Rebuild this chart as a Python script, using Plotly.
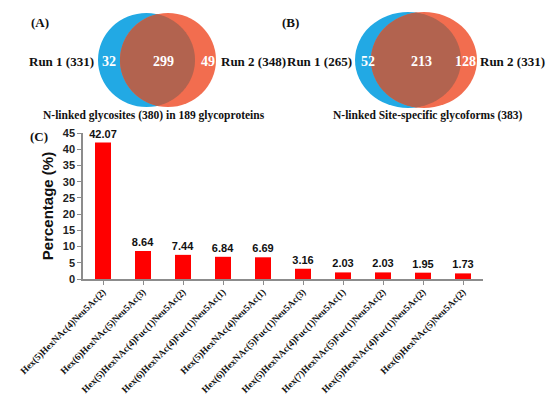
import math
import plotly.graph_objects as go

W, H = 554, 396

glycoforms = [
    "Hex(5)HexNAc(4)Neu5Ac(2)",
    "Hex(6)HexNAc(5)Neu5Ac(3)",
    "Hex(5)HexNAc(4)Fuc(1)Neu5Ac(2)",
    "Hex(6)HexNAc(4)Fuc(1)Neu5Ac(1)",
    "Hex(5)HexNAc(4)Neu5Ac(1)",
    "Hex(6)HexNAc(5)Fuc(1)Neu5Ac(3)",
    "Hex(5)HexNAc(4)Fuc(1)Neu5Ac(1)",
    "Hex(7)HexNAc(5)Fuc(1)Neu5Ac(2)",
    "Hex(5)HexNAc(4)Fuc(1)Neu5Ac(2)",
    "Hex(6)HexNAc(5)Neu5Ac(2)",
]
percentages = [42.07, 8.64, 7.44, 6.84, 6.69, 3.16, 2.03, 2.03, 1.95, 1.73]
y_ticks = [0, 5, 10, 15, 20, 25, 30, 35, 40, 45]

venn_a_counts = [32, 299, 49]
venn_a_runs = ["Run 1 (331)", "Run 2 (348)"]
venn_a_caption = "N-linked glycosites (380) in 189 glycoproteins"
venn_b_counts = [52, 213, 128]
venn_b_runs = ["Run 1 (265)", "Run 2 (331)"]
venn_b_caption = "N-linked Site-specific glycoforms (383)"

BLUE = "#22A9E4"
ORANGE = "#F26D4F"
OVERLAP = "#B2634F"
SERIF = "Liberation Serif"
SANS = "Liberation Sans"


def px(x):
    return x / W


def py(y):
    return 1 - y / H


def ellipse_pts(cx, cy, rx, ry, n=240):
    return [(cx + rx * math.cos(2 * math.pi * i / n), cy + ry * math.sin(2 * math.pi * i / n)) for i in range(n)]


def inside(p, cx, cy, rx, ry):
    return ((p[0] - cx) / rx) ** 2 + ((p[1] - cy) / ry) ** 2 <= 1.0


def path_from(pts):
    return "M " + " L ".join(f"{px(x):.5f},{py(y):.5f}" for x, y in pts) + " Z"


def lens(e1, e2):
    pts1 = ellipse_pts(*e1)
    pts2 = ellipse_pts(*e2)
    a = [p for p in pts1 if inside(p, *e2)]
    b = [p for p in pts2 if inside(p, *e1)]
    pts = a + b
    cx = sum(p[0] for p in pts) / len(pts)
    cy = sum(p[1] for p in pts) / len(pts)
    pts.sort(key=lambda p: math.atan2(p[1] - cy, p[0] - cx))
    return pts


shapes = []
annotations = []


def text_at(x, y, s, size, color="#111", family=SERIF, anchor="center"):
    annotations.append(dict(x=px(x), y=py(y), xref="paper", yref="paper", text=s,
                            showarrow=False, xanchor=anchor, yanchor="middle",
                            font=dict(family=family, size=size, color=color, weight="bold")))


def venn(e1, e2, counts, runs, caption, label, label_x, run_x, count_x, cap_x):
    for (cx, cy, rx, ry), col in ((e1, BLUE), (e2, ORANGE)):
        shapes.append(dict(type="circle", xref="paper", yref="paper",
                           x0=px(cx - rx), x1=px(cx + rx), y0=py(cy + ry), y1=py(cy - ry),
                           fillcolor=col, line=dict(width=0), layer="above"))
    shapes.append(dict(type="path", xref="paper", yref="paper", path=path_from(lens(e1, e2)),
                       fillcolor=OVERLAP, line=dict(width=0), layer="above"))
    cy = e1[1] + 1
    for x, c in zip(count_x, counts):
        text_at(x, cy, str(c), 14, color="white")
    for x, r in zip(run_x, runs):
        text_at(x, cy, r, 13)
    text_at(cap_x, 108, caption, 11.5)
    text_at(label_x, 15, label, 13, anchor="left")


venn((138.5, 52, 48.5, 47), (160, 52, 48, 47), venn_a_counts, venn_a_runs, venn_a_caption,
     "(A)", 21, [53, 245], [101, 155, 200], 146)
venn((400, 52, 53, 48), (416, 52, 53, 48), venn_b_counts, venn_b_runs, venn_b_caption,
     "(B)", 272, [311, 504], [360, 413, 457], 420)

text_at(20, 129, "(C)", 13, anchor="left")

idx = list(range(len(glycoforms)))
fig = go.Figure()
fig.add_trace(go.Bar(
    x=idx, y=percentages, width=0.4, marker=dict(color="#FF0000", line=dict(width=0)),
    text=[f"{v:.2f}" for v in percentages], textposition="outside", cliponaxis=False,
    constraintext="none",
    textfont=dict(family=SANS, size=11, color="#111", weight="bold"),
))

fig.update_layout(
    width=W, height=H, margin=dict(l=0, r=0, t=0, b=0, autoexpand=False),
    paper_bgcolor="white", plot_bgcolor="white", showlegend=False,
    shapes=shapes, annotations=annotations,
    xaxis=dict(domain=[px(75), px(475)], range=[-0.5, 9.5], showline=True, linecolor="#8c8c8c",
               tickvals=idx, ticktext=glycoforms, automargin=False,
               linewidth=1.5, ticks="outside", tickson="boundaries", ticklen=4, tickcolor="#8c8c8c",
               tickangle=-45, ticklabelstandoff=-2, showgrid=False, zeroline=False,
               tickfont=dict(family=SERIF, size=9.5, color="#111", weight="bold")),
    yaxis=dict(domain=[py(271), py(125)], range=[0, 45], tickvals=y_ticks, showline=True,
               automargin=False,
               linecolor="#8c8c8c", linewidth=1.5, ticks="outside", ticklen=4, tickcolor="#8c8c8c",
               showgrid=False, zeroline=False,
               tickfont=dict(family=SANS, size=11, color="#222", weight="bold"),
               title=dict(text="Percentage (%)", standoff=6,
                          font=dict(family=SANS, size=15, color="#111", weight="bold"))),
    bargap=0.6,
)

fig.write_html("out.html")
